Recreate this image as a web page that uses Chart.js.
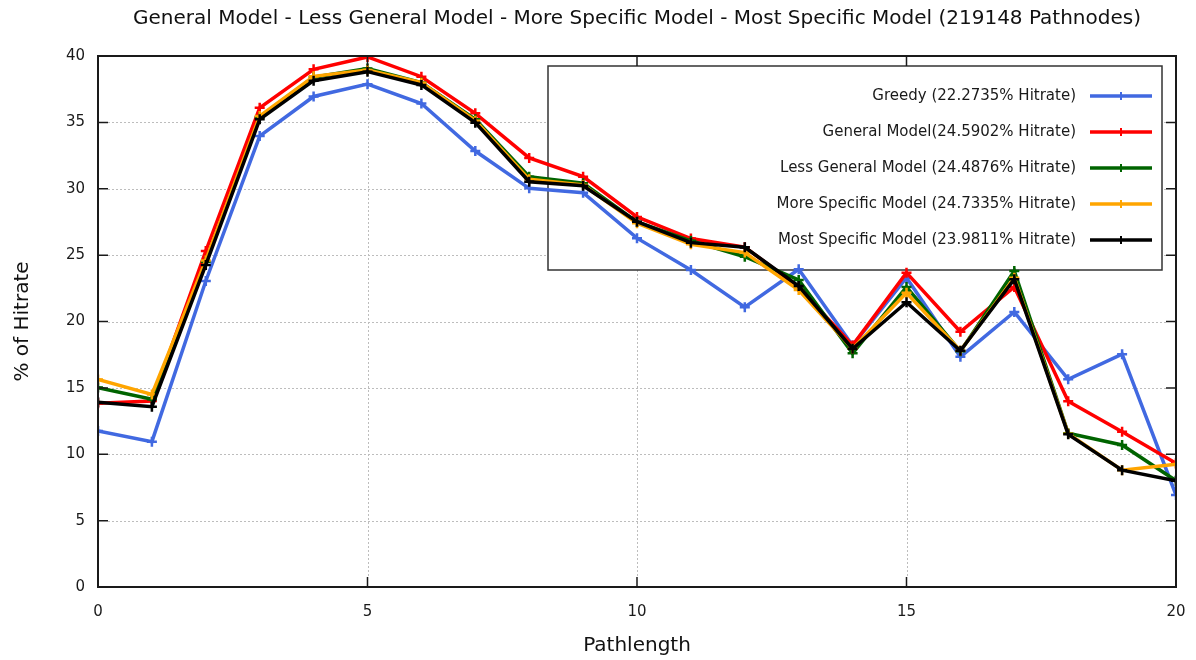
<!DOCTYPE html>
<html>
<head>
<meta charset="utf-8">
<script src="https://cdn.jsdelivr.net/npm/chart.js@4.4.0/dist/chart.umd.min.js"></script>
<style>
  html, body { margin: 0; padding: 0; background: #fff; }
  #wrap { width: 1196px; height: 660px; }
</style>
</head>
<body>
<div id="wrap"><canvas id="c" width="1196" height="660"></canvas></div>
<script>
// Hit rate (%) per path length for each prediction model
const pathlength = [0, 1, 2, 3, 4, 5, 6, 7, 8, 9, 10, 11, 12, 13, 14, 15, 16, 17, 18, 19, 20];

const greedy       = [11.75, 10.95, 23.05, 33.97, 36.95, 37.88, 36.42, 32.84, 30.03, 29.70, 26.28, 23.88, 21.08, 23.94, 18.20, 23.30, 17.34, 20.72, 15.65, 17.54, 6.93];
const general      = [13.84, 14.01, 25.31, 36.10, 39.00, 39.93, 38.44, 35.68, 32.32, 30.91, 27.88, 26.25, 25.60, 22.60, 18.20, 23.68, 19.23, 22.60, 13.99, 11.70, 9.32];
const lessGeneral  = [15.02, 14.14, 24.50, 35.40, 38.40, 39.05, 38.00, 35.23, 30.90, 30.41, 27.50, 26.08, 24.88, 23.13, 17.60, 22.60, 17.75, 23.80, 11.58, 10.70, 8.01];
const moreSpecific = [15.64, 14.51, 24.60, 35.48, 38.47, 38.94, 37.99, 35.13, 30.71, 30.28, 27.40, 25.81, 25.19, 22.37, 17.95, 22.17, 17.80, 23.30, 11.55, 8.80, 9.24];
const mostSpecific = [13.91, 13.58, 24.26, 35.23, 38.14, 38.82, 37.82, 34.98, 30.53, 30.23, 27.52, 25.94, 25.59, 22.67, 17.95, 21.45, 17.80, 23.18, 11.50, 8.80, 8.01];

const seriesLabels = [
  'Greedy (22.2735% Hitrate)',
  'General Model(24.5902% Hitrate)',
  'Less General Model (24.4876% Hitrate)',
  'More Specific Model (24.7335% Hitrate)',
  'Most Specific Model (23.9811% Hitrate)'
];
const seriesColors = ['#4169e1', '#ff0000', '#006400', '#ffa500', '#000000'];
const seriesValues = [greedy, general, lessGeneral, moreSpecific, mostSpecific];

const xTicks = [0, 5, 10, 15, 20];
const yTicks = [0, 5, 10, 15, 20, 25, 30, 35, 40];

const FONT = "'DejaVu Sans', sans-serif";

// Dotted grid, boxed legend, frame and inward tick marks
const framePlugin = {
  id: 'frame',
  beforeDatasetsDraw(chart) {
    const { ctx, chartArea: a, scales: { x, y } } = chart;
    ctx.save();
    // dotted grid
    ctx.strokeStyle = '#bdbdbd';
    ctx.lineWidth = 1;
    ctx.setLineDash([2, 2]);
    yTicks.slice(1, -1).forEach(v => {
      const py = Math.round(y.getPixelForValue(v)) + 0.5;
      ctx.beginPath(); ctx.moveTo(a.left + 10, py); ctx.lineTo(a.right - 10, py); ctx.stroke();
    });
    xTicks.slice(1, -1).forEach(v => {
      const px = Math.round(x.getPixelForValue(v)) + 0.5;
      ctx.beginPath(); ctx.moveTo(px, a.top + 10); ctx.lineTo(px, a.bottom - 10); ctx.stroke();
    });
    ctx.setLineDash([]);

    // legend box
    const bx = a.left + 450, by = a.top + 10, bw = a.right - 14 - bx, bh = 204;
    ctx.fillStyle = '#ffffff';
    ctx.fillRect(bx, by, bw, bh);
    ctx.strokeStyle = '#333333';
    ctx.lineWidth = 1.5;
    ctx.strokeRect(bx, by, bw, bh);

    ctx.font = '15px ' + FONT;
    ctx.textAlign = 'right';
    ctx.textBaseline = 'middle';
    chart.data.datasets.forEach((ds, i) => {
      const ry = by + 30 + i * 36;
      ctx.fillStyle = '#1a1a1a';
      ctx.fillText(ds.label, bx + bw - 86, ry);
      ctx.strokeStyle = ds.borderColor;
      ctx.lineWidth = 3.5;
      ctx.beginPath(); ctx.moveTo(bx + bw - 72, ry); ctx.lineTo(bx + bw - 10, ry); ctx.stroke();
      ctx.lineWidth = 2;
      const cx = bx + bw - 41;
      ctx.beginPath();
      ctx.moveTo(cx - 4, ry); ctx.lineTo(cx + 4, ry);
      ctx.moveTo(cx, ry - 4); ctx.lineTo(cx, ry + 4);
      ctx.stroke();
    });
    ctx.restore();
  },
  afterDatasetsDraw(chart) {
    const { ctx, chartArea: a, scales: { x, y } } = chart;
    ctx.save();
    ctx.strokeStyle = '#1a1a1a';
    ctx.lineWidth = 2;
    ctx.strokeRect(a.left, a.top, a.right - a.left, a.bottom - a.top);
    ctx.lineWidth = 1.5;
    ctx.beginPath();
    yTicks.forEach(v => {
      const py = y.getPixelForValue(v);
      ctx.moveTo(a.left, py); ctx.lineTo(a.left + 10, py);
      ctx.moveTo(a.right, py); ctx.lineTo(a.right - 10, py);
    });
    xTicks.forEach(v => {
      const px = x.getPixelForValue(v);
      ctx.moveTo(px, a.bottom); ctx.lineTo(px, a.bottom - 10);
      ctx.moveTo(px, a.top); ctx.lineTo(px, a.top + 10);
    });
    ctx.stroke();
    ctx.restore();
  }
};

const datasets = seriesValues.map((vals, i) => ({
  label: seriesLabels[i],
  data: vals.map((v, k) => ({ x: pathlength[k], y: v })),
  borderColor: seriesColors[i],
  backgroundColor: seriesColors[i],
  borderWidth: 3.5,
  pointStyle: 'cross',
  pointRadius: 5,
  pointBorderWidth: 2.5,
  pointHoverRadius: 5,
  tension: 0,
  fill: false,
  order: seriesValues.length - 1 - i
}));

new Chart(document.getElementById('c'), {
  type: 'line',
  data: { datasets },
  options: {
    responsive: false,
    animation: false,
    devicePixelRatio: 1,
    layout: { padding: { left: 0, right: 20, top: 0, bottom: 0 } },
    plugins: {
      legend: { display: false },
      tooltip: { enabled: false },
      title: {
        display: true,
        fullSize: false,
        text: 'General Model - Less General Model - More Specific Model - Most Specific Model (219148 Pathnodes)',
        color: '#111111',
        font: { family: FONT, size: 20, weight: 'normal', lineHeight: 1.2 },
        padding: { top: 7, bottom: 25 }
      }
    },
    scales: {
      x: {
        type: 'linear',
        min: 0, max: 20,
        afterBuildTicks(scale) { scale.ticks = xTicks.map(v => ({ value: v })); },
        afterFit(scale) {
          scale.height = 73;
          scale.paddingLeft = 0;
          scale.paddingRight = 0;
        },
        grid: { display: false, drawTicks: false },
        border: { display: false },
        ticks: { color: '#1a1a1a', font: { family: FONT, size: 15 }, padding: 16, maxRotation: 0 },
        title: { display: true, text: 'Pathlength', color: '#111111', font: { family: FONT, size: 20 }, padding: { top: 0, bottom: 2 } }
      },
      y: {
        min: 0, max: 40,
        afterBuildTicks(scale) { scale.ticks = yTicks.map(v => ({ value: v })); },
        afterFit(scale) { scale.width = 98; },
        grid: { display: false, drawTicks: false },
        border: { display: false },
        ticks: { color: '#1a1a1a', font: { family: FONT, size: 15 }, padding: 13 },
        title: { display: true, text: '% of Hitrate', color: '#111111', font: { family: FONT, size: 20 }, padding: { top: 11, bottom: 0 } }
      }
    }
  },
  plugins: [framePlugin]
});
</script>
</body>
</html>
